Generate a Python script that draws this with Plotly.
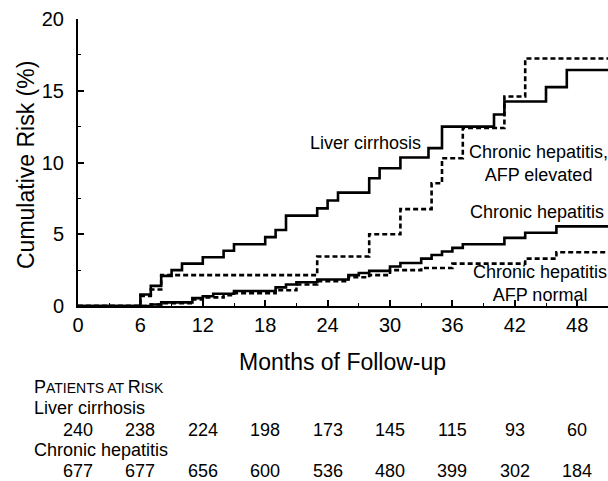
import plotly.graph_objects as go

# ---------------- data ----------------
liver_months = [0, 6, 7, 8, 9, 10, 12, 14, 15, 18, 19, 20, 23, 24, 25, 28, 29, 31, 33.7, 35, 40, 41, 45, 47, 51]
liver_risk = [0, 0.8, 1.4, 2.1, 2.5, 2.95, 3.4, 3.85, 4.3, 4.8, 5.3, 6.3, 6.8, 7.35, 7.9, 8.9, 9.6, 10.35, 11.0, 12.5, 13.35, 14.25, 15.25, 16.45, 16.45]

elev_months = [0, 6, 7, 8, 23, 28, 31, 34, 35, 37, 41, 43, 51]
elev_risk = [0, 0.7, 1.15, 2.15, 3.45, 5.0, 6.75, 8.55, 10.3, 12.4, 14.6, 17.25, 17.25]

chronic_months = [0, 7, 8, 11, 12, 13, 15, 19, 20, 21, 23, 26, 27, 28, 30, 31, 33, 34, 35, 36, 37, 41, 43, 46, 51]
chronic_risk = [0, 0.1, 0.25, 0.55, 0.68, 0.85, 1.05, 1.3, 1.5, 1.65, 1.85, 2.15, 2.3, 2.45, 2.75, 3.0, 3.3, 3.55, 3.8, 4.05, 4.3, 4.75, 5.1, 5.55, 5.55]

normal_months = [0, 7, 8, 11, 12, 14, 15, 19, 21, 23, 26, 28, 30, 33, 36, 43, 46, 51]
normal_risk = [0, 0.1, 0.2, 0.45, 0.6, 0.75, 0.9, 1.1, 1.5, 1.72, 2.0, 2.15, 2.5, 2.65, 2.95, 3.3, 3.75, 3.75]

tick_months = [0, 6, 12, 18, 24, 30, 36, 42, 48]
liver_at_risk = [240, 238, 224, 198, 173, 145, 115, 93, 60]
chronic_at_risk = [677, 677, 656, 600, 536, 480, 399, 302, 184]

# ---------------- layout helpers ----------------
W, H = 608, 481
L, R, T, B = 78, 0, 18.5, 174.5
PH = H - T - B
PW = W - L - R
FONT = "Liberation Sans, Arial, Helvetica, sans-serif"


def py(pix):
    return (H - B - pix) / PH


def px(pix):
    return (pix - L) / PW


fig = go.Figure()
line_w = 2.6
fig.add_trace(go.Scatter(x=liver_months, y=liver_risk, mode="lines", line=dict(color="black", width=line_w, shape="hv"), name="Liver cirrhosis"))
fig.add_trace(go.Scatter(x=elev_months, y=elev_risk, mode="lines", line=dict(color="black", width=line_w, shape="hv", dash="5px,3px"), name="Chronic hepatitis, AFP elevated"))
fig.add_trace(go.Scatter(x=chronic_months, y=chronic_risk, mode="lines", line=dict(color="black", width=line_w, shape="hv"), name="Chronic hepatitis"))
fig.add_trace(go.Scatter(x=normal_months, y=normal_risk, mode="lines", line=dict(color="black", width=line_w, shape="hv", dash="5px,3px"), name="Chronic hepatitis, AFP normal"))

ann = []
lab_font = dict(family=FONT, size=18, color="black")
ann.append(dict(x=px(423), y=py(143), xref="paper", yref="paper", text="Liver cirrhosis", showarrow=False, xanchor="right", yanchor="middle", font=lab_font))
ann.append(dict(x=px(538), y=py(164), xref="paper", yref="paper", text="Chronic hepatitis,<br>AFP elevated", showarrow=False, xanchor="center", yanchor="middle", align="center", font=lab_font))
ann.append(dict(x=px(606), y=py(212), xref="paper", yref="paper", text="Chronic hepatitis", showarrow=False, xanchor="right", yanchor="middle", font=lab_font))
ann.append(dict(x=px(540), y=py(284), xref="paper", yref="paper", text="Chronic hepatitis<br>AFP normal", showarrow=False, xanchor="center", yanchor="middle", align="center", font=lab_font))

# axis titles
ann.append(dict(x=px(342), y=py(363), xref="paper", yref="paper", text="Months of Follow-up", showarrow=False, xanchor="center", yanchor="middle", font=dict(family=FONT, size=23, color="black")))
ann.append(dict(x=px(26), y=py(165), xref="paper", yref="paper", text="Cumulative Risk (%)", showarrow=False, textangle=-90, xanchor="center", yanchor="middle", font=dict(family=FONT, size=23, color="black")))

# patients at risk table
ann.append(dict(x=px(32), y=py(388), xref="paper", yref="paper", showarrow=False, xanchor="left", yanchor="middle",
                text="P<span style='font-size:14px'>ATIENTS AT </span>R<span style='font-size:14px'>ISK</span>", font=lab_font))
ann.append(dict(x=px(32), y=py(409), xref="paper", yref="paper", showarrow=False, xanchor="left", yanchor="middle", text="Liver cirrhosis", font=lab_font))
ann.append(dict(x=px(32), y=py(451), xref="paper", yref="paper", showarrow=False, xanchor="left", yanchor="middle", text="Chronic hepatitis", font=lab_font))
for m, v in zip(tick_months, liver_at_risk):
    ann.append(dict(x=m, y=py(431), xref="x", yref="paper", showarrow=False, xanchor="center", yanchor="middle", text=str(v), font=lab_font))
for m, v in zip(tick_months, chronic_at_risk):
    ann.append(dict(x=m, y=py(472), xref="x", yref="paper", showarrow=False, xanchor="center", yanchor="middle", text=str(v), font=lab_font))

fig.update_layout(
    width=W, height=H,
    margin=dict(l=L, r=R, t=T, b=B, pad=0),
    paper_bgcolor="white", plot_bgcolor="white",
    showlegend=False,
    annotations=ann,
    font=dict(family=FONT, color="black"),
)
fig.update_xaxes(
    range=[0, PW / 10.4], tickvals=tick_months, ticktext=[str(t) for t in tick_months],
    ticks="inside", ticklen=6, tickwidth=1.5, tickcolor="black",
    minor=dict(ticks="inside", dtick=3, tick0=0, ticklen=3, tickwidth=1.2, tickcolor="black"),
    showline=True, linecolor="black", linewidth=2, showgrid=False, zeroline=False,
    tickfont=dict(family=FONT, size=20, color="black"), ticklabelstandoff=0,
)
fig.update_yaxes(
    range=[0, 20], tickvals=[0, 5, 10, 15, 20],
    ticks="inside", ticklen=6, tickwidth=1.5, tickcolor="black",
    minor=dict(ticks="inside", dtick=2.5, tick0=0, ticklen=3, tickwidth=1.2, tickcolor="black"),
    showline=True, linecolor="black", linewidth=2, showgrid=False, zeroline=False,
    tickfont=dict(family=FONT, size=20, color="black"), ticklabelstandoff=8,
)

fig.write_html("out.html", config={"displayModeBar": False}, post_script="document.body.style.margin='0';")
